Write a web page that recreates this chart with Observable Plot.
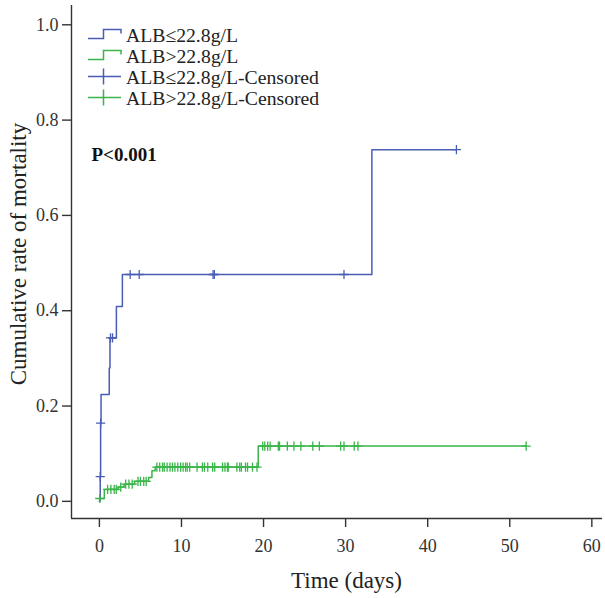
<!DOCTYPE html>
<html>
<head>
<meta charset="utf-8">
<script src="https://cdn.jsdelivr.net/npm/d3@7"></script>
<script src="https://cdn.jsdelivr.net/npm/@observablehq/plot@0.6"></script>
<style>
  html, body { margin: 0; padding: 0; background: white; }
  #wrap { position: relative; width: 605px; height: 598px; font-family: "Liberation Serif", "Times New Roman", serif; }
  #legend { position: absolute; left: 0; top: 0; pointer-events: none; }
</style>
</head>
<body>
<div id="wrap"></div>
<script>
// ---- data ----
const seriesNames = ["ALB≤22.8g/L", "ALB>22.8g/L"];
const legendLabels = ["ALB≤22.8g/L", "ALB>22.8g/L", "ALB≤22.8g/L-Censored", "ALB>22.8g/L-Censored"];
const colors = ["#4a5db5", "#3ab54a"];

// step curves (time in days, cumulative mortality)
const blueTimes  = [0, 0.1, 0.15, 0.2, 1.2, 1.29, 2.07, 2.8, 33.2, 43.5];
const blueValues = [0, 0.052, 0.164, 0.224, 0.28, 0.343, 0.409, 0.476, 0.738, 0.738];
const greenTimes  = [0, 0.05, 0.6, 2.3, 3.0, 4.3, 6.0, 6.4, 6.8, 19.35, 52.0];
const greenValues = [0, 0.006, 0.025, 0.030, 0.036, 0.042, 0.050, 0.064, 0.072, 0.116, 0.116];

// censored observations (days)
const blueCensored = [0.1, 0.15, 1.35, 1.6, 3.75, 4.85, 13.85, 14.0, 29.8, 43.5];
const greenCensored = [0.05, 1.0, 1.4, 1.8, 2.05, 2.6, 3.2, 3.6, 4.0, 4.7, 5.0, 5.4, 5.7,
  7.0, 7.35, 7.7, 7.9, 8.25, 8.6, 8.9, 9.2, 9.55, 9.9, 10.2, 10.5, 10.7, 11.0, 11.9, 12.55, 12.8,
  13.2, 13.8, 14.05, 15.0, 15.3, 15.6, 15.7, 16.75, 17.1, 17.3, 17.8, 18.05, 18.65, 19.2,
  19.9, 20.15, 20.5, 20.8, 21.8, 21.95, 22.9, 23.7, 24.55, 26.0, 26.8, 29.4, 29.8, 31.05, 31.5, 52.0];

const xTicks = [0, 10, 20, 30, 40, 50, 60];
const yTicks = [0, 0.2, 0.4, 0.6, 0.8, 1.0];
const xDomain = [-3.4, 61.3];
const yDomain = [-0.036, 1.0405];
const pText = "P<0.001";
const xTitle = "Time (days)";
const yTitle = "Cumulative rate of mortality";

// ---- build tables ----
function curve(times, values, name) {
  return times.map((t, i) => ({time: t, value: values[i], group: name}));
}
function valueAt(times, values, t) {
  let v = values[0];
  for (let i = 0; i < times.length; i++) if (times[i] <= t + 1e-9) v = values[i];
  return v;
}
const curves = [...curve(blueTimes, blueValues, seriesNames[0]), ...curve(greenTimes, greenValues, seriesNames[1])];
const censors = [
  ...blueCensored.map(t => ({time: t, value: valueAt(blueTimes, blueValues, t), group: seriesNames[0]})),
  ...greenCensored.map(t => ({time: t, value: valueAt(greenTimes, greenValues, t), group: seriesNames[1]}))
];

const plusSymbol = {
  draw(context, size) {
    const r = Math.sqrt(size / Math.PI);
    context.moveTo(-r, 0); context.lineTo(r, 0);
    context.moveTo(0, -r); context.lineTo(0, r);
  }
};

const font = "Liberation Serif";
const axisColor = "#333";

const chart = Plot.plot({
  width: 605, height: 598,
  marginLeft: 71, marginRight: 3, marginTop: 5, marginBottom: 80,
  style: {fontFamily: font, background: "white", color: axisColor, overflow: "visible"},
  x: {domain: xDomain},
  y: {domain: yDomain},
  color: {domain: seriesNames, range: colors},
  marks: [
    Plot.axisX({ticks: xTicks, tickSize: 9, tickPadding: 12, fontSize: 18, label: null, tickFormat: d => String(d), strokeWidth: 1.4, fill: "#333"}),
    Plot.axisY({ticks: yTicks, tickSize: 9, tickPadding: 4, fontSize: 18, label: null, tickFormat: d3.format(".1f"), strokeWidth: 1.4, fill: "#333"}),
    Plot.ruleX([xDomain[0]], {stroke: axisColor, strokeWidth: 1.4}),
    Plot.ruleY([yDomain[0]], {stroke: axisColor, strokeWidth: 1.4}),
    Plot.line(curves, {x: "time", y: "value", z: "group", stroke: "group", curve: "step-after", strokeWidth: 1.5}),
    Plot.dot(censors, {x: "time", y: "value", stroke: "group", symbol: plusSymbol, r: 4.6, fill: "none", strokeWidth: 1.3}),
    Plot.text([yTitle], {text: d => d, frameAnchor: "left", textAnchor: "middle", lineAnchor: "middle", rotate: -90, dx: -53, dy: -8, fontSize: 23, fill: "#222"}),
    Plot.text([xTitle], {text: d => d, frameAnchor: "bottom", textAnchor: "middle", lineAnchor: "middle", dx: 9.5, dy: 62, fontSize: 23, fill: "#222"}),
    Plot.text([pText], {text: d => d, frameAnchor: "top-left", dx: 20, dy: 149, textAnchor: "start", lineAnchor: "middle", fontSize: 19, fontWeight: "bold", fill: "#111"})
  ]
});

const wrap = document.getElementById("wrap");
wrap.appendChild(chart);

// ---- legend overlay ----
const lg = d3.select(wrap).append("svg").attr("id", "legend").attr("width", 605).attr("height", 120);
const rowBase = [41.5, 62.5, 83.5, 104.5];
const symX0 = 88, symX1 = 121, symMid = 103.5;
legendLabels.forEach((lab, i) => {
  const b = rowBase[i];
  const c = colors[i % 2];
  if (i < 2) {
    lg.append("path")
      .attr("d", `M${symX0},${b - 3}H${symMid}V${b - 12}H${symX1}V${b - 8}`)
      .attr("fill", "none").attr("stroke", c).attr("stroke-width", 1.5);
  } else {
    lg.append("path")
      .attr("d", `M${symX0},${b - 7}H${symX1}M${symMid},${b - 15}V${b + 1}`)
      .attr("fill", "none").attr("stroke", c).attr("stroke-width", 1.5);
  }
  lg.append("text").attr("x", 126).attr("y", b)
    .attr("font-family", font).attr("font-size", 19.7).attr("fill", "#222").text(lab);
});
</script>
</body>
</html>
